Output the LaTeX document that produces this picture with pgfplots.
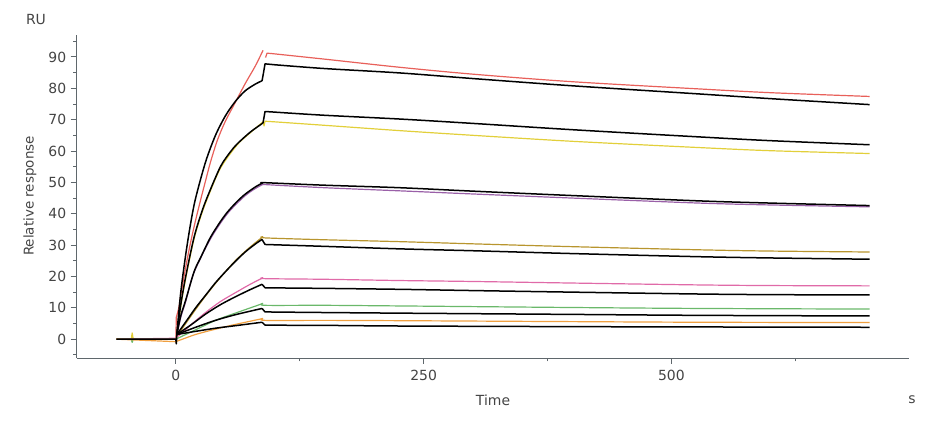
\documentclass[border=0pt]{standalone}
\usepackage{pgfplots}
\pgfplotsset{compat=1.18}
\usepackage{fontspec}
\setmainfont{DejaVu Sans}
\definecolor{axgray}{HTML}{5F676C}
\definecolor{txtgray}{HTML}{444444}
\definecolor{cred}{HTML}{E8605A}
\definecolor{cyel}{HTML}{E2CF3A}
\definecolor{cpur}{HTML}{9A60A8}
\definecolor{coli}{HTML}{B8952E}
\definecolor{cpink}{HTML}{E06AA8}
\definecolor{cgrn}{HTML}{6AB86A}
\definecolor{corg}{HTML}{F0A040}
\begin{document}
\begin{tikzpicture}
\useasboundingbox (0,0) rectangle (941bp,424bp);
\begin{axis}[
  at={(76.7bp,66bp)}, anchor=south west,
  scale only axis, width=832.6bp, height=323bp,
  xmin=-100, xmax=740, ymin=-6, ymax=97,
  axis x line*=bottom, axis y line*=left,
  axis line style={axgray, line width=0.9bp},
  every tick/.style={axgray, line width=0.9bp},
  tick align=outside,
  major tick length=6bp, minor tick length=3.5bp,
  xtick={0,250,500}, minor xtick={125,375,625},
  ytick={0,10,...,90}, minor ytick={-5,5,15,25,35,45,55,65,75,85,95},
  /pgf/number format/assume math mode=true,
  tick label style={font=\fontsize{14}{16}\selectfont, text=txtgray},
  xticklabel style={yshift=-3bp},
  yticklabel style={xshift=-1bp},
  bl/.style={black, line width=1.5bp, line join=round},
  dl/.style={line width=1.2bp, line join=round},
]
% ---- measured data (coloured) ----
\addplot[dl, cred] coordinates {(-60,0)(0,0)(0.5,7)};
\addplot[dl, cred, smooth] coordinates {(0.5,7)(3,10)(5,14)(10,23)(15,31)(20,38)(25,44.4)(30,50.5)(35,56.5)(42,63.5)(50,69.5)(60,75.5)(70,81.5)(80,87)(88,92.1)};
\addplot[dl, cred] coordinates {(90.5,89.8)(92,91.2)(96,91.1)};
\addplot[dl, cred, smooth] coordinates {(96,91.1)(150,89.3)(226,86.7)(300,84.5)(400,82.1)(528,79.8)(600,78.6)(700,77.4)};
\addplot[dl, cyel] coordinates {(-60,0)(-45,0)(-44,2)(-43,0)(0,0)(1,1)};
\addplot[dl, cyel, smooth] coordinates {(1,1)(5,10.5)(10,19.5)(18,31.5)(25,39)(32,45)(45,54.5)(62,62)(75,65.8)(88,69.3)};
\addplot[dl, cyel] coordinates {(88,69.3)(89,68)(90,69.5)(100,69.3)};
\addplot[dl, cyel, smooth] coordinates {(100,69.3)(150,68.2)(226,66.5)(300,65.0)(400,63.1)(528,61.1)(600,60.1)(700,59.2)};
\addplot[dl, cpur] coordinates {(-60,0)(0,0)(1,1)};
\addplot[dl, cpur, smooth] coordinates {(1,1)(5,7)(10,12)(18,21)(35,32)(52,40)(69,45.5)(80,48)(88,49.4)};
\addplot[dl, cpur, smooth] coordinates {(88,49.4)(90,49.3)(150,48.3)(226,47.3)(300,46.3)(400,45)(528,43.4)(600,42.8)(700,42.2)};
\addplot[dl, coli] coordinates {(-60,0)(0,0)(1,0.8)};
\addplot[dl, coli, smooth] coordinates {(1,0.8)(10,5)(20,9.5)(30,13.8)(40,17.8)(50,21.5)(60,25)(70,28)(80,30.7)(88,32.7)};
\addplot[dl, coli, smooth] coordinates {(88,32.7)(90,32.3)(150,31.7)(226,31.1)(300,30.4)(400,29.5)(528,28.5)(600,28.1)(700,27.8)};
\addplot[dl, cpink] coordinates {(-60,0)(0,0.3)};
\addplot[dl, cpink, smooth] coordinates {(0,0.3)(15,4.5)(30,8.5)(45,12)(60,14.8)(75,17.5)(88,19.6)};
\addplot[dl, cpink, smooth] coordinates {(88,19.6)(90,19.3)(150,19.1)(226,18.7)(300,18.4)(400,17.9)(528,17.3)(600,17.1)(700,17.0)};
\addplot[dl, cgrn] coordinates {(-60,0)(-45,0)(-44,-1)(-43,0)(0,0)};
\addplot[dl, cgrn, smooth] coordinates {(0,0)(20,3)(40,6)(60,8.3)(88,11.4)};
\addplot[dl, cgrn, smooth] coordinates {(88,11.4)(90,10.8)(150,10.8)(226,10.6)(400,10.1)(528,9.8)(700,9.6)};
\addplot[dl, corg] coordinates {(-60,0)(0,-0.8)};
\addplot[dl, corg, smooth] coordinates {(0,-0.8)(5,-0.2)(20,1.5)(40,3.2)(60,4.7)(88,6.6)};
\addplot[dl, corg, smooth] coordinates {(88,6.6)(90,6.0)(150,6.0)(226,5.9)(400,5.6)(528,5.4)(700,5.3)};
% ---- fitted curves (black) ----
\addplot[bl] coordinates {(-60,0)(0,0)(0.5,-1.5)(1,1.5)};
\addplot[bl, smooth] coordinates {(1,1.5)(5,15)(10,27)(15,37)(20,45)(30,56.5)(40,65)(50,71.2)(60,75.8)(70,79.2)(80,81.3)(87,82.4)};
\addplot[bl] coordinates {(87,82.4)(88.5,85)(90,87.8)(100,87.5)};
\addplot[bl, smooth] coordinates {(100,87.5)(150,86.3)(226,84.9)(300,83.1)(400,80.8)(528,78.2)(600,76.7)(700,74.8)};
\addplot[bl, smooth] coordinates {(1,1.5)(5,11)(10,20)(18,32)(25,39.5)(32,45.5)(45,55)(55,59.7)(62,62.3)(75,66)(86,68.5)};
\addplot[bl] coordinates {(86,68.5)(88,69)(90,72.6)(100,72.4)};
\addplot[bl, smooth] coordinates {(100,72.4)(150,71.4)(226,70.2)(300,68.8)(400,66.8)(528,64.5)(600,63.3)(700,62.0)};
\addplot[bl, smooth] coordinates {(1,1.5)(5,7.5)(10,12.5)(18.4,21.5)(25,26)(35,32.5)(45,37.5)(52,40.5)(60,43.3)(69,46)(80,48.5)(88,49.9)};
\addplot[bl, smooth] coordinates {(88,49.9)(90,49.9)(150,49.1)(226,48.3)(300,47.2)(400,45.8)(528,44.1)(600,43.4)(700,42.6)};
\addplot[bl, smooth] coordinates {(1,1.5)(10,5.5)(20,10)(30,14)(40,18)(50,21.5)(60,24.8)(70,27.8)(80,30.3)(87,31.8)};
\addplot[bl] coordinates {(87,31.8)(90,30.2)(100,30.1)};
\addplot[bl, smooth] coordinates {(100,30.1)(150,29.6)(226,28.8)(300,28.2)(400,27.3)(528,26.3)(600,25.9)(700,25.5)};
\addplot[bl, smooth] coordinates {(1,1.5)(15,4.5)(30,8)(45,11)(60,13.5)(75,15.8)(87,17.5)};
\addplot[bl] coordinates {(87,17.5)(90,16.4)(100,16.35)};
\addplot[bl, smooth] coordinates {(100,16.35)(150,16.2)(226,15.9)(300,15.5)(400,15)(528,14.4)(600,14.2)(700,14.1)};
\addplot[bl, smooth] coordinates {(1,1.5)(20,3.8)(40,6)(60,7.8)(87,9.8)};
\addplot[bl] coordinates {(87,9.8)(90,8.7)(100,8.65)};
\addplot[bl, smooth] coordinates {(100,8.65)(150,8.5)(226,8.3)(400,7.9)(528,7.6)(700,7.4)};
\addplot[bl, smooth] coordinates {(1,1.5)(20,2.5)(40,3.5)(60,4.3)(87,5.4)};
\addplot[bl] coordinates {(87,5.4)(90,4.5)(100,4.45)};
\addplot[bl, smooth] coordinates {(100,4.45)(150,4.4)(226,4.2)(400,4.0)(528,3.9)(700,3.8)};
\end{axis}
\node[txtgray, font=\fontsize{14}{16}\selectfont] at (493bp,24bp) {Time};
\node[txtgray, font=\fontsize{14}{16}\selectfont] at (912bp,24bp) {s};
\node[txtgray, font=\fontsize{14}{16}\selectfont] at (36bp,404bp) {RU};
\node[txtgray, font=\fontsize{13.5}{16}\selectfont, rotate=90] at (30bp,228bp) {Relative response};
\end{tikzpicture}
\end{document}
